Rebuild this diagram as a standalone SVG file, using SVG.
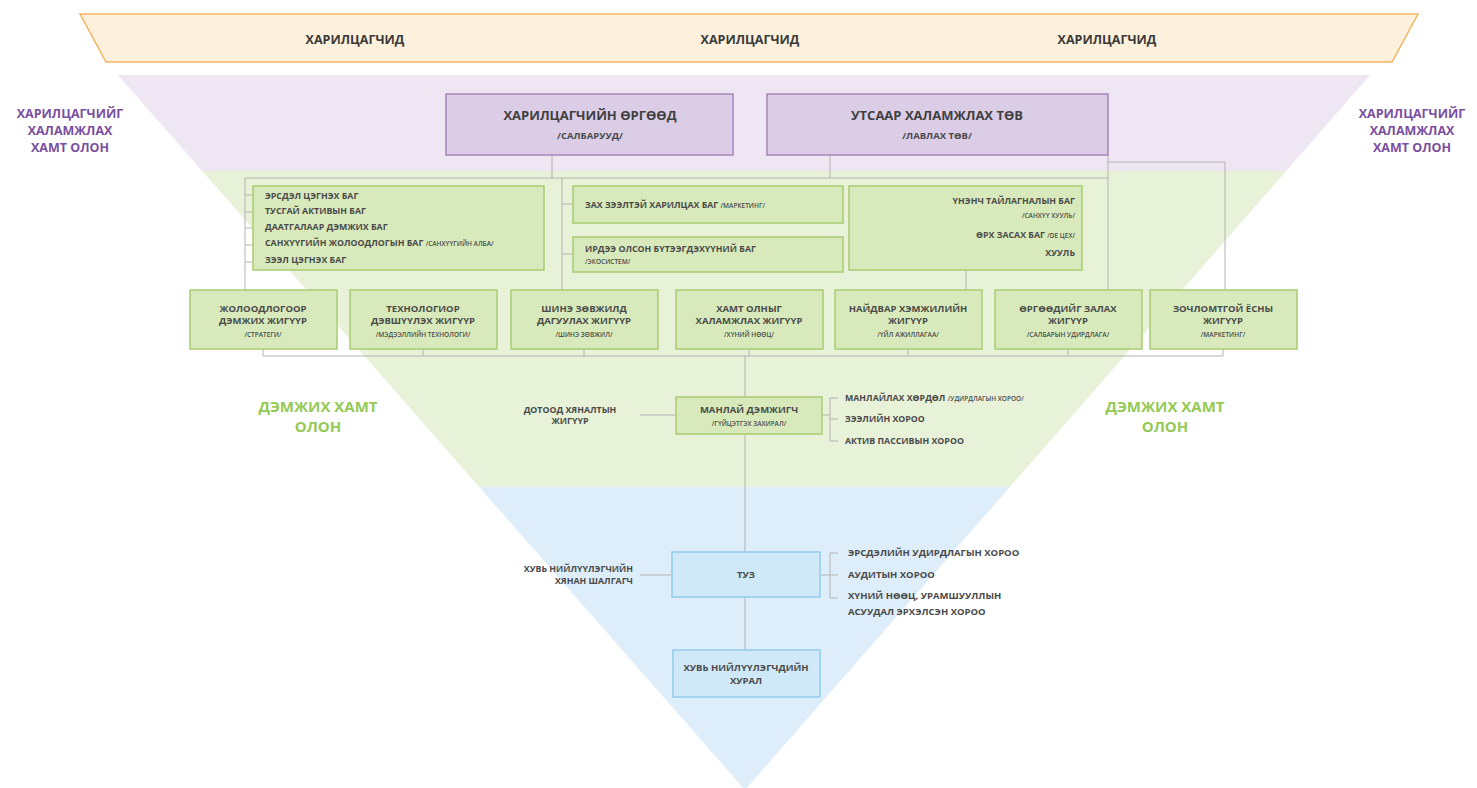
<svg xmlns="http://www.w3.org/2000/svg" width="1477" height="788" viewBox="0 0 1477 788">
<style>
.t{font-family:"Open Sans","Liberation Sans",Arial,sans-serif;font-weight:bold;fill:#4a4a4a}
.s{font-size:9.5px}
.l{font-size:8.8px}
.xs{font-size:6.5px;font-weight:600}
.top{font-size:12.5px;fill:#3a3a3a}
.pt{font-size:13px;fill:#3f3f3f}
.pl{font-family:"Open Sans","Liberation Sans",Arial,sans-serif;font-weight:bold;font-size:12.5px;fill:#7a4ea0}
.gl{font-family:"Open Sans","Liberation Sans",Arial,sans-serif;font-weight:bold;font-size:15px;fill:#95c955}
.pb{fill:#dccde6;stroke:#a486b8;stroke-width:1.5}
.gb{fill:#d8eabb;stroke:#a8cd72;stroke-width:1.5}
.bb{fill:#cfe9f9;stroke:#93ccee;stroke-width:1.5}
.c{stroke:#b3b3b3;stroke-width:1;fill:none}
</style>
<defs>
<clipPath id="tri"><polygon points="118,75 1370,75 745,790"/></clipPath>
</defs>
<rect width="1477" height="788" fill="#ffffff"/>
<g id="background">
<g clip-path="url(#tri)">
<rect x="0" y="75" width="1477" height="96" fill="#eee6f3"/>
<rect x="0" y="171" width="1477" height="316" fill="#e8f2d8"/>
<rect x="0" y="487" width="1477" height="310" fill="#ddeefa"/>
</g>
</g>
<g id="customers">
<polygon points="80,14 1418,14 1392,62 106,62" fill="#fdf0dc" stroke="#f3b55f" stroke-width="1.5"/>
<text class="t top" x="355" y="44" text-anchor="middle">ХАРИЛЦАГЧИД</text>
<text class="t top" x="750" y="44" text-anchor="middle">ХАРИЛЦАГЧИД</text>
<text class="t top" x="1107" y="44" text-anchor="middle">ХАРИЛЦАГЧИД</text>
</g>
<g id="side-labels">
<text class="pl" text-anchor="middle"><tspan x="70" y="118">ХАРИЛЦАГЧИЙГ</tspan><tspan x="70" y="135">ХАЛАМЖЛАХ</tspan><tspan x="70" y="152">ХАМТ ОЛОН</tspan></text>
<text class="pl" text-anchor="middle"><tspan x="1412" y="118">ХАРИЛЦАГЧИЙГ</tspan><tspan x="1412" y="135">ХАЛАМЖЛАХ</tspan><tspan x="1412" y="152">ХАМТ ОЛОН</tspan></text>
<text class="gl" text-anchor="middle"><tspan x="318" y="412">ДЭМЖИХ ХАМТ</tspan><tspan x="318" y="432">ОЛОН</tspan></text>
<text class="gl" text-anchor="middle"><tspan x="1165" y="412">ДЭМЖИХ ХАМТ</tspan><tspan x="1165" y="432">ОЛОН</tspan></text>
</g>
<g id="connectors">
<path class="c" d="M552,155 V178 M245,178 H1108 M830,155 V178 M1108,155 V290 M1108,162 H1225 V290"/>
<path class="c" d="M245,178 V290 M245,195 H253 M245,212 H253 M245,228 H253 M245,245 H253 M245,262 H253"/>
<path class="c" d="M562,178 V290 M562,204 H573 M562,254 H573"/>
<path class="c" d="M966,270 V290"/>
<path class="c" d="M263,349 V356 M423,349 V356 M584,349 V356 M749,349 V356 M908,349 V356 M1068,349 V356 M1223,349 V356 M263,356 H1223"/>
<path class="c" d="M745,356 V397 M640,415 H676 M822,415 H830 M830,398 V441 M830,398 H838 M830,419 H838 M830,441 H838"/>
<path class="c" d="M745,434 V552 M640,575 H672 M820,575 H830 M830,553 V598 M830,553 H838 M830,575 H838 M830,598 H838"/>
<path class="c" d="M745,597 V650"/>
</g>
<g id="branches">
<rect class="pb" x="446" y="94" width="287" height="61"/>
<text class="t pt" x="590" y="120" text-anchor="middle">ХАРИЛЦАГЧИЙН ӨРГӨӨД</text>
<text class="t s" x="590" y="139" text-anchor="middle">/САЛБАРУУД/</text>
</g>
<g id="call-center">
<rect class="pb" x="767" y="94" width="341" height="61"/>
<text class="t pt" x="937" y="120" text-anchor="middle">УТСААР ХАЛАМЖЛАХ ТӨВ</text>
<text class="t s" x="937" y="139" text-anchor="middle">/ЛАВЛАХ ТӨВ/</text>
</g>
<g id="teams-a">
<rect class="gb" x="253" y="186" width="291" height="84"/>
<text class="t l" x="265" y="199">ЭРСДЭЛ ЦЭГНЭХ БАГ</text>
<text class="t l" x="265" y="214">ТУСГАЙ АКТИВЫН БАГ</text>
<text class="t l" x="265" y="230">ДААТГАЛААР ДЭМЖИХ БАГ</text>
<text class="t l" x="265" y="246">САНХҮҮГИЙН ЖОЛООДЛОГЫН БАГ <tspan class="xs">/САНХҮҮГИЙН АЛБА/</tspan></text>
<text class="t l" x="265" y="263">ЗЭЭЛ ЦЭГНЭХ БАГ</text>
</g>
<g id="teams-b1">
<rect class="gb" x="573" y="186" width="270" height="37"/>
<text class="t l" x="585" y="208">ЗАХ ЗЭЭЛТЭЙ ХАРИЛЦАХ БАГ <tspan class="xs">/МАРКЕТИНГ/</tspan></text>
</g>
<g id="teams-b2">
<rect class="gb" x="573" y="237" width="270" height="35"/>
<text class="t l" x="585" y="252">ИРДЭЭ ОЛСОН БҮТЭЭГДЭХҮҮНИЙ БАГ</text>
<text class="t xs" x="585" y="264">/ЭКОСИСТЕМ/</text>
</g>
<g id="teams-c">
<rect class="gb" x="849" y="186" width="233" height="84"/>
<text class="t l" x="1075" y="204" text-anchor="end">ҮНЭНЧ ТАЙЛАГНАЛЫН БАГ</text>
<text class="t xs" x="1075" y="218" text-anchor="end">/САНХҮҮ ХУУЛЬ/</text>
<text class="t l" x="1075" y="238" text-anchor="end">ӨРХ ЗАСАХ БАГ <tspan class="xs">/DE ЦЕХ/</tspan></text>
<text class="t l" x="1075" y="256" text-anchor="end">ХУУЛЬ</text>
</g>
<g id="wing-1">
<rect class="gb" x="190" y="290" width="147" height="59"/>
<text class="t s" x="263" y="312" text-anchor="middle">ЖОЛООДЛОГООР</text>
<text class="t s" x="263" y="324" text-anchor="middle">ДЭМЖИХ ЖИГҮҮР</text>
<text class="t xs" x="263" y="337" text-anchor="middle">/СТРАТЕГИ/</text>
</g>
<g id="wing-2">
<rect class="gb" x="350" y="290" width="147" height="59"/>
<text class="t s" x="423" y="312" text-anchor="middle">ТЕХНОЛОГИОР</text>
<text class="t s" x="423" y="324" text-anchor="middle">ДЭВШҮҮЛЭХ ЖИГҮҮР</text>
<text class="t xs" x="423" y="337" text-anchor="middle">/МЭДЭЭЛЛИЙН ТЕХНОЛОГИ/</text>
</g>
<g id="wing-3">
<rect class="gb" x="511" y="290" width="147" height="59"/>
<text class="t s" x="584" y="312" text-anchor="middle">ШИНЭ ЗӨВЖИЛД</text>
<text class="t s" x="584" y="324" text-anchor="middle">ДАГУУЛАХ ЖИГҮҮР</text>
<text class="t xs" x="584" y="337" text-anchor="middle">/ШИНЭ ЗӨВЖИЛ/</text>
</g>
<g id="wing-4">
<rect class="gb" x="676" y="290" width="147" height="59"/>
<text class="t s" x="749" y="312" text-anchor="middle">ХАМТ ОЛНЫГ</text>
<text class="t s" x="749" y="324" text-anchor="middle">ХАЛАМЖЛАХ ЖИГҮҮР</text>
<text class="t xs" x="749" y="337" text-anchor="middle">/ХҮНИЙ НӨӨЦ/</text>
</g>
<g id="wing-5">
<rect class="gb" x="835" y="290" width="147" height="59"/>
<text class="t s" x="908" y="312" text-anchor="middle">НАЙДВАР ХЭМЖИЛИЙН</text>
<text class="t s" x="908" y="324" text-anchor="middle">ЖИГҮҮР</text>
<text class="t xs" x="908" y="337" text-anchor="middle">/ҮЙЛ АЖИЛЛАГАА/</text>
</g>
<g id="wing-6">
<rect class="gb" x="995" y="290" width="147" height="59"/>
<text class="t s" x="1068" y="312" text-anchor="middle">ӨРГӨӨДИЙГ ЗАЛАХ</text>
<text class="t s" x="1068" y="324" text-anchor="middle">ЖИГҮҮР</text>
<text class="t xs" x="1068" y="337" text-anchor="middle">/САЛБАРЫН УДИРДЛАГА/</text>
</g>
<g id="wing-7">
<rect class="gb" x="1150" y="290" width="147" height="59"/>
<text class="t s" x="1223" y="312" text-anchor="middle">ЗОЧЛОМТГОЙ ЁСНЫ</text>
<text class="t s" x="1223" y="324" text-anchor="middle">ЖИГҮҮР</text>
<text class="t xs" x="1223" y="337" text-anchor="middle">/МАРКЕТИНГ/</text>
</g>
<g id="ceo">
<rect class="gb" x="676" y="397" width="146" height="37"/>
<text class="t s" x="749" y="413" text-anchor="middle">МАНЛАЙ ДЭМЖИГЧ</text>
<text class="t xs" x="749" y="426" text-anchor="middle">/ГҮЙЦЭТГЭХ ЗАХИРАЛ/</text>
</g>
<g id="internal-control">
<text class="t l" x="570" y="413" text-anchor="middle">ДОТООД ХЯНАЛТЫН</text>
<text class="t l" x="570" y="424" text-anchor="middle">ЖИГҮҮР</text>
</g>
<g id="ceo-committees">
<text class="t l" x="845" y="401">МАНЛАЙЛАХ ХӨРДӨЛ <tspan class="xs">/УДИРДЛАГЫН ХОРОО/</tspan></text>
<text class="t l" x="845" y="422">ЗЭЭЛИЙН ХОРОО</text>
<text class="t l" x="845" y="444">АКТИВ ПАССИВЫН ХОРОО</text>
</g>
<g id="board">
<rect class="bb" x="672" y="552" width="148" height="45"/>
<text class="t s" x="746" y="578" text-anchor="middle">ТУЗ</text>
</g>
<g id="auditor">
<text class="t l" x="633" y="572" text-anchor="end">ХУВЬ НИЙЛҮҮЛЭГЧИЙН</text>
<text class="t l" x="633" y="584" text-anchor="end">ХЯНАН ШАЛГАГЧ</text>
</g>
<g id="board-committees">
<text class="t s" x="848" y="556">ЭРСДЭЛИЙН УДИРДЛАГЫН ХОРОО</text>
<text class="t s" x="848" y="578">АУДИТЫН ХОРОО</text>
<text class="t s" x="848" y="599">ХҮНИЙ НӨӨЦ, УРАМШУУЛЛЫН</text>
<text class="t s" x="848" y="615">АСУУДАЛ ЭРХЭЛСЭН ХОРОО</text>
</g>
<g id="shareholders">
<rect class="bb" x="673" y="650" width="147" height="47"/>
<text class="t s" x="746" y="671" text-anchor="middle">ХУВЬ НИЙЛҮҮЛЭГЧДИЙН</text>
<text class="t s" x="746" y="684" text-anchor="middle">ХУРАЛ</text>
</g>
</svg>
